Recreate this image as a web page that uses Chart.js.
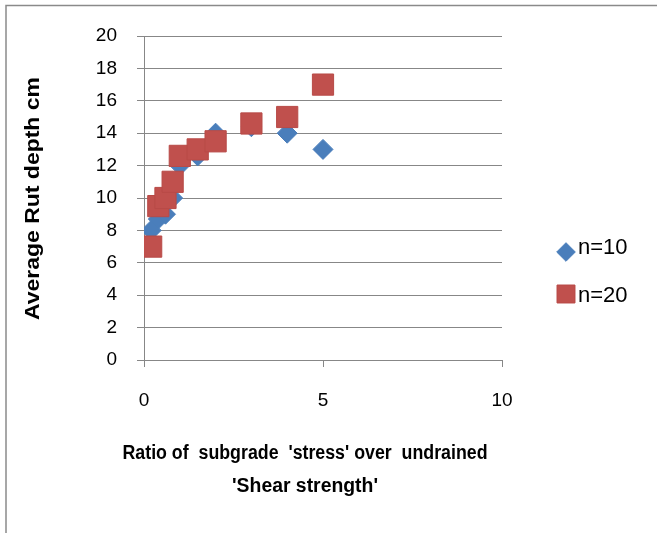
<!DOCTYPE html>
<html>
<head>
<meta charset="utf-8">
<script src="https://cdn.jsdelivr.net/npm/chart.js@4/dist/chart.umd.min.js"></script>
<style>
html,body{margin:0;padding:0;background:#fff;}
#wrap{position:relative;width:657px;height:533px;}
</style>
</head>
<body>
<div id="wrap"><canvas id="c" width="657" height="533"></canvas></div>
<script>
// ---- data ----
const seriesNames = ['n=10', 'n=20'];
const xN10 = [0.2, 0.4, 0.6, 0.8, 1, 1.5, 2, 3, 4, 5];
const yN10 = [8, 8.7, 9, 10, 12, 12.6, 14, 14.4, 14, 13];
const xN20 = [0.2, 0.4, 0.6, 0.8, 1, 1.5, 2, 3, 4, 5];
const yN20 = [7, 9.5, 10, 11, 12.6, 13, 13.5, 14.6, 15, 17];
const xTicks = [0, 5, 10];
const yTicks = [0, 2, 4, 6, 8, 10, 12, 14, 16, 18, 20];
const xTitle = ["Ratio of  subgrade  'stress' over  undrained", "'Shear strength'"];
const yTitle = 'Average Rut depth cm';

const pts = (xs, ys) => xs.map((x, i) => ({x: x, y: ys[i]}));
const GRID = '#878787';
const FONT = "'Liberation Sans', Arial, sans-serif";

// draw text fitted to a target width (condensed like the original)
function fitText(ctx, text, cx, baseY, targetW) {
  const w = ctx.measureText(text).width;
  const s = targetW / w;
  ctx.save();
  ctx.translate(cx, baseY);
  ctx.scale(s, 1);
  ctx.textAlign = 'center';
  ctx.textBaseline = 'alphabetic';
  ctx.fillText(text, 0, 0);
  ctx.restore();
}

const frame = {
  id: 'frame',
  beforeDraw(chart) {
    const ctx = chart.ctx;
    ctx.save();
    ctx.strokeStyle = '#8a8a8a';
    ctx.lineWidth = 1.5;
    ctx.beginPath();
    ctx.moveTo(6, 540);
    ctx.lineTo(6, 5.5);
    ctx.lineTo(670, 5.5);
    ctx.stroke();
    ctx.restore();
  }
};

const extras = {
  id: 'extras',
  afterDraw(chart) {
    const ctx = chart.ctx;
    ctx.save();
    ctx.fillStyle = '#000';
    ctx.font = "bold 20px " + FONT;
    // x axis title (two lines)
    fitText(ctx, xTitle[0], 305, 459, 365);
    fitText(ctx, xTitle[1], 305, 492, 146);
    // y axis title (rotated)
    ctx.save();
    ctx.translate(38.5, 198.5);
    ctx.rotate(-Math.PI / 2);
    fitText(ctx, yTitle, 0, 0, 243);
    ctx.restore();
    // legend
    const rows = [{my: 252, ty: 254}, {my: 294, ty: 301.5}];
    chart.data.datasets.forEach((ds, i) => {
      const row = rows[i];
      ctx.fillStyle = ds.backgroundColor;
      ctx.strokeStyle = ds.borderColor;
      ctx.lineWidth = 1;
      const r = ds.pointStyle === 'rect' ? 12.7 : 9.3;
      Chart.helpers.drawPoint(ctx, {pointStyle: ds.pointStyle, rotation: 0, radius: r, borderWidth: 1}, 566, row.my);
      ctx.fillStyle = '#000';
      ctx.font = "22px " + FONT;
      ctx.textAlign = 'left';
      ctx.textBaseline = 'alphabetic';
      ctx.fillText(ds.label, 578, row.ty);
    });
    ctx.restore();
  }
};

new Chart(document.getElementById('c'), {
  type: 'scatter',
  data: {
    datasets: [
      {
        label: seriesNames[0],
        data: pts(xN10, yN10),
        pointStyle: 'rectRot',
        pointRadius: 10,
        pointHoverRadius: 10,
        backgroundColor: '#4a7ebb',
        borderColor: '#4a7ebb',
        borderWidth: 1,
        order: 1
      },
      {
        label: seriesNames[1],
        data: pts(xN20, yN20),
        pointStyle: 'rect',
        pointRadius: 15,
        pointHoverRadius: 15,
        backgroundColor: '#c0504d',
        borderColor: '#b84a47',
        borderWidth: 1,
        order: 0
      }
    ]
  },
  options: {
    responsive: false,
    animation: false,
    layout: {padding: {left: 10, right: 155, top: 36, bottom: 0}},
    plugins: {
      legend: {display: false},
      tooltip: {enabled: false}
    },
    scales: {
      x: {
        type: 'linear',
        min: 0, max: 10,
        afterBuildTicks(s) { s.ticks = xTicks.map(v => ({value: v})); },
        afterFit(s) { s.height = 173; },
        grid: {drawOnChartArea: false, drawTicks: true, tickLength: 7, color: GRID, lineWidth: 1},
        border: {display: true, color: GRID, width: 1},
        ticks: {color: '#000', font: {family: FONT, size: 19}, padding: 22, maxRotation: 0}
      },
      y: {
        type: 'linear',
        min: 0, max: 20,
        afterBuildTicks(s) { s.ticks = yTicks.map(v => ({value: v})); },
        afterFit(s) { s.width = 134; },
        grid: {drawOnChartArea: true, drawTicks: true, tickLength: 7, color: GRID, lineWidth: 1},
        border: {display: true, color: GRID, width: 1},
        ticks: {color: '#000', font: {family: FONT, size: 19}, padding: 20}
      }
    }
  },
  plugins: [frame, extras]
});
</script>
</body>
</html>
